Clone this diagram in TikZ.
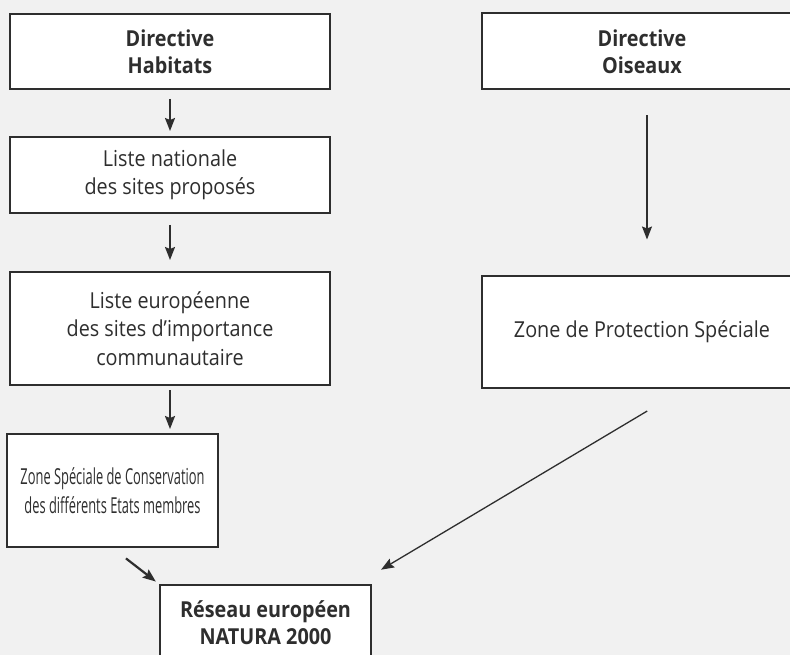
\documentclass[tikz,border=0pt]{standalone}
\usepackage{fontspec}
\setmainfont{Open Sans}[FakeStretch=0.9]
\newfontfamily\narrowfont{Open Sans}[FakeStretch=0.585]
\usepackage{tikz}
\usetikzlibrary{positioning, arrows.meta}
\definecolor{inkgray}{HTML}{2E2E2E}
\definecolor{paper}{HTML}{F1F1F1}
\tikzset{
x=1pt, y=-1pt, % one unit is one pixel of the page, y runs downwards
>={Stealth[length=13pt, width=10pt, inset=2pt]}, % makes the arrow heads bold
box/.style={draw=inkgray, line width=2pt, fill=white, text=inkgray, align=center, inner sep=0pt, font=\fontsize{22}{28.5}\selectfont}, % every frame
title/.style={box, font=\fontsize{22}{27}\selectfont\bfseries}, % the frames with bold text
narrow/.style={box, font=\fontsize{22}{28.5}\selectfont\narrowfont}, % the condensed frame
link/.style={->, draw=inkgray, line width=1.8pt}, % short thick arrows
longlink/.style={->, draw=inkgray, line width=1.3pt}, % long thin arrows
}
\begin{document}
\begin{tikzpicture}
                \clip (0,0) rectangle (790,655);
                \fill[paper] (0,0) rectangle (790,655);
                \node[title, minimum width=320pt, minimum height=75pt] (hab) at (170,51.5) {Directive\\Habitats};
                \node[box, minimum width=320pt, minimum height=76pt, below=46pt of hab] (nat) {Liste nationale\\des sites proposés};
                \node[box, minimum width=320pt, minimum height=113pt, below=57pt of nat] (eur) {Liste européenne\\des sites d’importance\\communautaire};
                \node[narrow, minimum width=211pt, minimum height=113pt, below=47pt of eur.south west, anchor=north west, xshift=-3pt] (zsc) {Zone Spéciale de Conservation\\des différents Etats membres};
                \node[title, minimum width=320pt, minimum height=76pt, right=150pt of hab] (ois) {Directive\\Oiseaux};
                \node[box, minimum width=320pt, minimum height=112pt, below=184pt of ois] (zps) {Zone de Protection Spéciale};
                \node[title, minimum width=211pt, minimum height=75pt] (res) at (265.5,622.5) {Réseau européen\\NATURA 2000};
                \draw[link, shorten <=9pt, shorten >=5pt] (hab) -- (nat);
                \draw[link, shorten <=11pt, shorten >=11pt] (nat) -- (eur);
                \draw[link, shorten <=4pt, shorten >=4pt] (eur.south) -- (eur.south |- zsc.north);
                \draw[longlink, shorten <=25pt, shorten >=35pt] ([xshift=5pt]ois.south) -- ([xshift=5pt]zps.north);
                \draw[longlink, shorten <=44pt, shorten >=28pt] ([xshift=43pt]zps.south) -- ([xshift=-15pt]res.north east);
                \draw[link, line width=2.2pt, shorten <=17pt, shorten >=4pt] (zsc.south) -- (res.north west);
                \end{tikzpicture}
\end{document}
